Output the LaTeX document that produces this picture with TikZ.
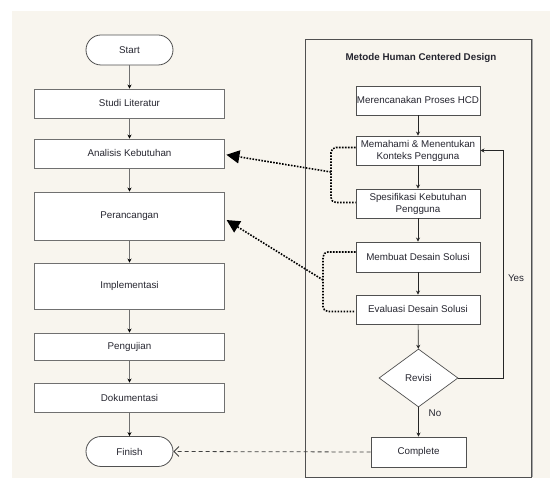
\documentclass[tikz,border=0pt]{standalone}
\usepackage{fontspec}
\setmainfont{Liberation Sans}
\usetikzlibrary{shapes.geometric,arrows.meta}
\definecolor{bgbeige}{HTML}{F8F5EE}
\definecolor{txtc}{HTML}{262630}
\definecolor{lgrey}{HTML}{707070}
\definecolor{frm}{HTML}{505050}
\tikzset{
  base/.style={draw, fill=white, text=txtc, font=\fontsize{9.8}{12}\selectfont, align=center, inner sep=1pt},
  lbox/.style={base, draw=lgrey, line width=0.9pt, minimum width=190pt},
  term/.style={base, draw=frm, line width=0.8pt, rounded corners=15pt, minimum width=87pt, minimum height=30pt},
  rbox/.style={base, draw=frm, line width=0.9pt, minimum width=124pt},
  lflow/.style={draw=lgrey, line width=1.2pt, -{Stealth[length=4pt,width=4pt,color=black]}},
  rflow/.style={draw=black!85, line width=0.7pt, -{Stealth[length=4pt,width=4pt]}},
  hcddot/.style={draw=black, line width=1.6pt, dash pattern=on 1.6pt off 1.4pt},
  bigtip/.style={-{Triangle[length=13pt,width=13pt]}},
  lbl/.style={text=txtc, font=\fontsize{9.8}{12}\selectfont}
}
\begin{document}
\begin{tikzpicture}[x=1pt,y=-1pt]
\useasboundingbox (0,0) rectangle (550,478);
\fill[white] (0,0) rectangle (550,478);
\fill[bgbeige] (12,11) rectangle (550,478);
% frame
\draw[frm, line width=0.9pt] (305,39) rectangle (531,477);
\draw[black!35, line width=1.2pt] (532.2,39) -- (532.2,477);
\node[font=\bfseries\fontsize{9.8}{12}\selectfont, text=txtc] (title) at (421,58) {Metode Human Centered Design};
% left column
\node[term] (start) at (129.5,50) {Start};
\node[lbox, minimum height=29pt] (studi) at (129.5,103.5) {Studi Literatur};
\node[lbox, minimum height=29pt] (analisis) at (129.5,153.5) {Analisis Kebutuhan};
\node[lbox, minimum height=48pt] (peran) at (129.5,216) {Perancangan};
\node[lbox, minimum height=46pt] (impl) at (129.5,286) {Implementasi};
\node[lbox, minimum height=27pt] (uji) at (129.5,346.5) {Pengujian};
\node[lbox, minimum height=29pt] (doku) at (129.5,397.5) {Dokumentasi};
\node[term] (finish) at (129.5,451.5) {Finish};
\draw[lflow] (start) -- (studi);
\draw[lflow] (studi) -- (analisis);
\draw[lflow] (analisis) -- (peran);
\draw[lflow] (peran) -- (impl);
\draw[lflow] (impl) -- (uji);
\draw[lflow] (uji) -- (doku);
\draw[lflow] (doku) -- (finish);
% right column
\node[rbox, minimum height=29pt] (renc) at (418,100.5) {Merencanakan Proses HCD};
\node[rbox, minimum height=29pt] (paham) at (418,150.5) {Memahami \& Menentukan\\Konteks Pengguna};
\node[rbox, minimum height=29pt] (spek) at (418,203.5) {Spesifikasi Kebutuhan\\Pengguna};
\node[rbox, minimum height=30pt] (buat) at (418,257) {Membuat Desain Solusi};
\node[rbox, minimum height=29pt] (eval) at (418,309.5) {Evaluasi Desain Solusi};
\node[base, draw=frm, line width=0.7pt, shape=diamond, minimum width=79pt, minimum height=58pt, inner sep=0pt] (revisi) at (418.5,378) {Revisi};
\node[base, draw=frm, line width=0.9pt, minimum width=95pt, minimum height=30pt] (complete) at (418.5,452) {Complete};
\draw[rflow] (renc) -- (paham);
\draw[rflow] (paham) -- (spek);
\draw[rflow] (spek) -- (buat);
\draw[rflow] (buat) -- (eval);
\draw[rflow] (eval) -- (revisi);
\draw[rflow] (revisi) -- (complete);
\coordinate (yx) at (503,378);
\draw[rflow] (revisi.east) -- (yx) |- (paham.east);
\node[lbl] (yes) at (516,278) {Yes};
\node[lbl] (no) at (435,413) {No};
% dotted brackets and arrows
\coordinate (b1m) at (331,172);
\coordinate (b2m) at (323,280);
\draw[hcddot, rounded corners=5pt] ([yshift=3pt]paham.west) -| (b1m) |- ([yshift=1pt]spek.west);
\draw[hcddot, rounded corners=5pt] ([yshift=5pt]buat.west) -| (b2m) |- ([yshift=-2pt]eval.west);
\draw[hcddot, bigtip, shorten >=1.5pt] (b1m) -- ([yshift=-1pt]analisis.east);
\draw[hcddot, bigtip, shorten >=2pt] (b2m) -- ([yshift=-3pt]peran.east);
% dashed
\draw[black!75, line width=0.8pt, dash pattern=on 4pt off 3pt, -{Straight Barb[length=5pt,width=10pt]}] (complete.west) -- (finish.east);
\end{tikzpicture}
\end{document}
